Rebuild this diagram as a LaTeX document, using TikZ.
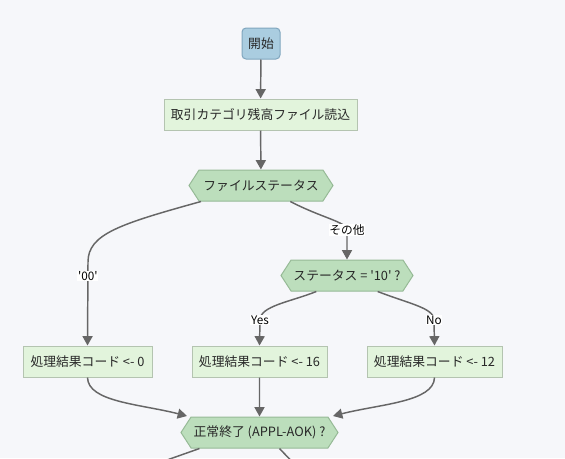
\documentclass[tikz,border=0pt]{standalone}
\usepackage{fontspec}
\setmainfont{Noto Sans CJK JP}[Ligatures=TeXOff]
\usetikzlibrary{arrows.meta,shapes.symbols}

\definecolor{bgcol}{RGB}{246,247,250}
\definecolor{startfill}{RGB}{170,205,224}
\definecolor{startline}{RGB}{128,166,190}
\definecolor{boxfill}{RGB}{226,244,220}
\definecolor{boxline}{RGB}{180,196,176}
\definecolor{decfill}{RGB}{188,222,188}
\definecolor{decline}{RGB}{150,186,150}
\definecolor{flowcol}{RGB}{102,102,102}
\definecolor{txtcol}{RGB}{40,40,40}

\tikzset{every picture/.style={line width=0.75pt}}
\tikzset{
  startbox/.style={draw=startline,fill=startfill,rounded corners=3pt,minimum width=28.5pt,minimum height=23.25pt,inner sep=1pt,text=txtcol,font=\fontsize{9.6}{11}\selectfont},
  procbox/.style={draw=boxline,fill=boxfill,minimum height=23.25pt,inner sep=1pt,text=txtcol,font=\fontsize{9.6}{11}\selectfont},
  decbox/.style={shape=signal,signal from=nowhere,signal to=east and west,signal pointer angle=114,draw=decline,fill=decfill,minimum height=23.25pt,inner sep=1pt,text=txtcol,font=\fontsize{9.6}{11}\selectfont},
  flow/.style={draw=flowcol,line width=1.1pt,-{Triangle[length=7pt,width=7.5pt]}},
  lbl/.style={fill=white,inner sep=0.5pt,text=black,font=\fontsize{8.8}{10}\selectfont}
}

\begin{document}
\begin{tikzpicture}[x=0.75pt,y=0.75pt,yscale=-1,xscale=1]
	%set diagram size 565 x 458
	\clip (0,0) rectangle (565,458);
	\fill [bgcol] (0,0) rectangle (565,458);

	% Start
	\node [startbox] (start) at (261,43.5) {開始};
	% Read file
	\node [procbox,minimum width=144.75pt] (readf) at (260.5,114.5) {取引カテゴリ残高ファイル読込};
	% File status
	\node [decbox,minimum width=108pt] (fstat) at (261,185.5) {ファイルステータス};
	% Status = '10'
	\node [decbox,minimum width=99pt] (stat10) at (347,275.5) {ステータス = '10' ?};
	% Result codes
	\node [procbox,minimum width=96.75pt] (res0) at (87.5,361.5) {処理結果コード <- 0};
	\node [procbox,minimum width=101.25pt] (res16) at (259.5,361.5) {処理結果コード <- 16};
	\node [procbox,minimum width=101.25pt] (res12) at (434.5,361.5) {処理結果コード <- 12};
	% Normal end
	\node [decbox,minimum width=117.75pt] (aok) at (259.5,432.5) {正常終了 (APPL-AOK) ?};

	% free ends below the frame
	\coordinate (outl) at (150,466);
	\coordinate (outr) at (300,470);

	% Connectors
	\draw [flow] (start) -- (readf);
	\draw [flow] (readf) -- (fstat);
	\draw [flow] ([xshift=-45pt]fstat.south) .. controls (120,224) and (88,234) .. (88,262) -- node [lbl,pos=0.17] {'00'} (res0.north);
	\draw [flow] ([xshift=22pt]fstat.south) .. controls (322,218) and (347,222) .. (347,230) -- node [lbl,pos=0] {その他} (stat10.north);
	\draw [flow] ([xshift=-23pt]stat10.south) .. controls (290,302) and (260,306) .. (260,320) -- node [lbl,pos=0] {Yes} (res16.north);
	\draw [flow] ([xshift=23pt]stat10.south) .. controls (410,304) and (434,308) .. (434,320) -- node [lbl,pos=0] {No} (res12.north);
	\draw [flow] (res0.south) .. controls (88,402) and (140,404) .. (187,416);
	\draw [flow] (res16) -- (aok);
	\draw [flow] (res12.south) .. controls (434,402) and (380,404) .. (333,416);
	\draw [draw=flowcol,line width=1.1pt] ([xshift=-45pt]aok.south) -- (outl);
	\draw [draw=flowcol,line width=1.1pt] ([xshift=15pt]aok.south) -- (outr);

\end{tikzpicture}
\end{document}
